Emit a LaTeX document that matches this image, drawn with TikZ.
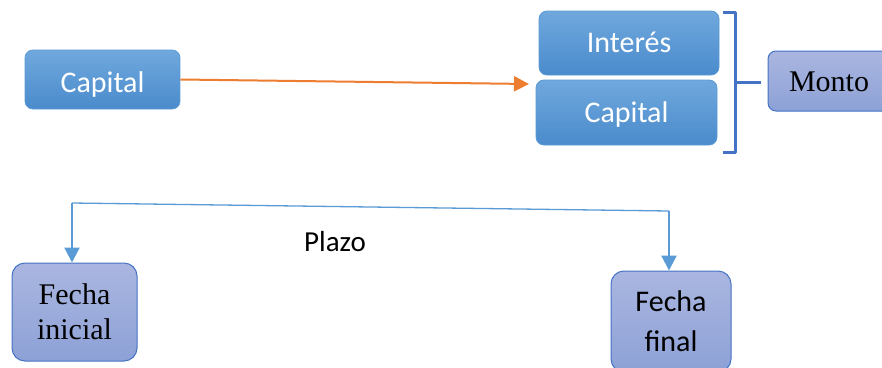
\documentclass[tikz,border=0pt]{standalone}
\usepackage{fontspec}
\setmainfont{Liberation Serif}
\newfontfamily\calib{Carlito}
\usetikzlibrary{arrows.meta}
\definecolor{boxtop}{HTML}{70A8DD}
\definecolor{boxbot}{HTML}{4A8BCC}
\definecolor{boxline}{HTML}{5B9BD5}
\definecolor{lavtop}{HTML}{AAB6E0}
\definecolor{lavbot}{HTML}{8DA1D6}
\definecolor{accent}{HTML}{4472C4}
\definecolor{orangeln}{HTML}{ED7D31}
\definecolor{linkblue}{HTML}{5B9BD5}
\tikzset{
  bluebox/.style={draw=boxline, line width=0.8pt, rounded corners=8pt,
    top color=boxtop, bottom color=boxbot, text=white, inner sep=0pt,
    text depth=0pt, font=\calib\fontsize{30}{34}\selectfont},
  lavbox/.style={draw=accent, line width=1pt, rounded corners=13pt,
    top color=lavtop, bottom color=lavbot, text=black, inner sep=0pt,
    align=center},
  serifbig/.style={font=\fontsize{30}{35}\selectfont},
  calibbig/.style={font=\calib\fontsize{30}{40}\selectfont},
  tip/.style={-{Triangle[length=15pt,width=15pt]}},
}
\begin{document}
\begin{tikzpicture}[x=1pt,y=-1pt]
\useasboundingbox (0,0) rectangle (882,367);
\clip (0,0) rectangle (882,367);
\fill[white] (0,0) rectangle (882,367);

% top row: capital grows into interest + capital
\node[bluebox, text height=25pt, minimum width=155pt, minimum height=59pt] (capA) at (102.5,79.5) {Capital};
\node[bluebox, text height=18pt, minimum width=180pt, minimum height=64pt] (inter) at (629,43) {Interés};
\node[bluebox, text height=19pt, minimum width=181pt, minimum height=65pt] (capB) at (626.5,112.5) {Capital};
\node[lavbox, serifbig, text height=20pt, text depth=0pt, minimum width=122pt, minimum height=60pt, rounded corners=8pt] (monto) at (829,81) {Monto};

\coordinate (arrowEnd) at (529,84);
\draw[orangeln, line width=2pt, tip] (capA.east) -- (arrowEnd);

% closing bracket grouping the two boxes
\coordinate (brTop) at (723,12);
\coordinate (brBot) at (723,152);
\coordinate (brTip) at (761,82);
\draw[accent, line width=3pt, line join=round]
  (brTop) -- ++(12,0) -- ++(0,140) -- (brBot);
\draw[accent, line width=3pt] (735,82) -- (brTip);

% term between start and end dates
\node[lavbox, serifbig, minimum width=125pt, minimum height=98pt] (fini) at (74.5,312) {Fecha\\inicial};
\node[lavbox, calibbig, minimum width=120pt, minimum height=101pt] (ffin) at (671,321.5) {Fecha\\final};

\coordinate (pL) at (72,203);
\coordinate (pR) at (669,211);
\draw[linkblue, line width=1.3pt] (pL) -- (pR);
\draw[linkblue, line width=2.3pt, tip] (pL) -- (pL |- fini.north);
\draw[linkblue, line width=2.3pt, tip] (pR) -- (pR |- ffin.north);
\node[font=\calib\fontsize{29}{32}\selectfont, text=black] (plazo) at (335,242) {Plazo};
\end{tikzpicture}
\end{document}
